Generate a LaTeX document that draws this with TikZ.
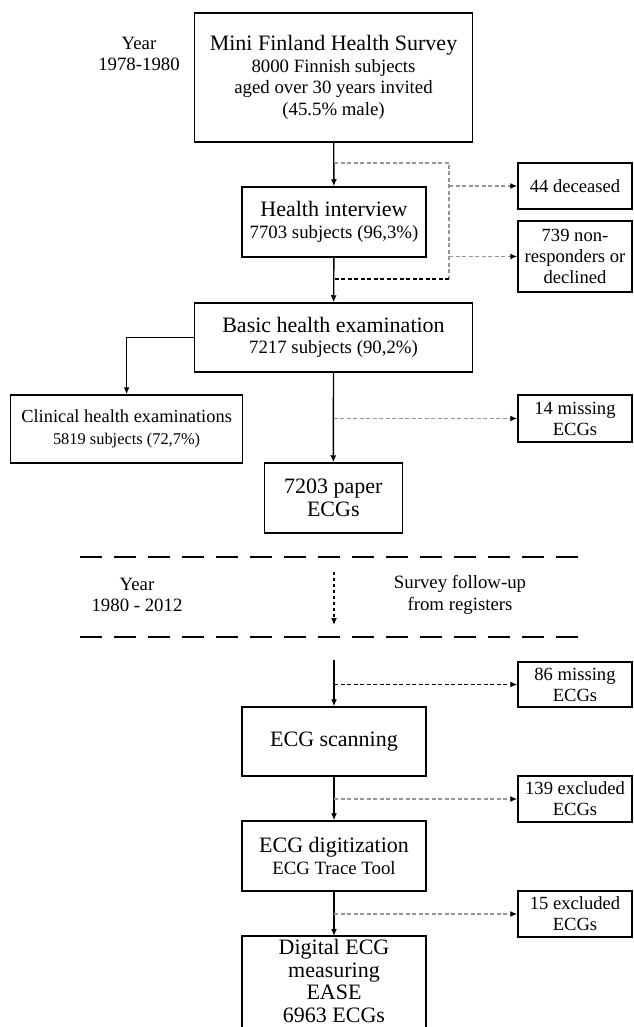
\documentclass[tikz,border=0pt]{standalone}
\usepackage{fontspec}
\setmainfont{Liberation Serif}
\usetikzlibrary{arrows.meta}
\definecolor{dashgray}{RGB}{150,150,150}
\newcommand{\fttitle}{\fontsize{22}{23}\selectfont}
\newcommand{\ftbody}{\fontsize{18.8}{21.5}\selectfont}
\newcommand{\ftside}{\fontsize{18.6}{21}\selectfont}
\newcommand{\ftclin}{\fontsize{18.4}{22}\selectfont}
\newcommand{\ftclinsub}{\fontsize{16.4}{22}\selectfont}

\begin{document}
\begin{tikzpicture}[x=1pt,y=-1pt,
  box/.style={draw, line width=1.5pt, align=center, inner sep=2pt},
  sidebox/.style={box, minimum width=114pt, font=\ftside},
  flow/.style={line width=1.4pt, -{Latex[length=7pt,width=6pt]}},
  exclude/.style={dashgray, line width=1.5pt, dash pattern=on 4pt off 2.5pt, -{Latex[length=7pt,width=6pt,black]}},
  excludeblk/.style={black, line width=1.2pt, dash pattern=on 4pt off 2.5pt},
  divider/.style={line width=2pt, dash pattern=on 22pt off 12pt}]
\useasboundingbox (0,0) rectangle (633,1027);
\clip (0,0) rectangle (633,1027);

% Survey 1978-1980
\node[align=center, font=\ftbody] (year1) at (139,54) {Year\\1978-1980};
\node[box, minimum width=278pt, minimum height=129pt, font=\ftbody] (survey) at (333.5,77.5)
  {{\fttitle Mini Finland Health Survey}\\8000 Finnish subjects\\aged over 30 years invited\\(45.5\% male)};
\node[box, minimum width=184pt, minimum height=70pt, font=\ftbody] (interview) at (334,222)
  {{\fttitle Health interview}\\7703 subjects (96,3\%)};
\node[sidebox, minimum height=46pt] (deceased) at (575,186) {44 deceased};
\node[sidebox, minimum height=71pt] (nonresp) at (575,256.5) {739 non-\\responders or\\declined};
\node[box, minimum width=278pt, minimum height=69pt, font=\ftbody] (basic) at (333.5,337.5)
  {{\fttitle Basic health examination}\\7217 subjects (90,2\%)};
\node[box, minimum width=232pt, minimum height=68pt, font=\ftclin] (clinical) at (126.6,429)
  {Clinical health examinations\\{\ftclinsub 5819 subjects (72,7\%)}};
\node[box, minimum width=138pt, minimum height=70pt, font=\fttitle] (paper) at (333.3,498)
  {7203 paper\\ECGs};
\node[sidebox, minimum height=47pt] (miss14) at (575,418.5) {14 missing\\ECGs};

% main flow
\draw[flow] (survey) -- (interview);
\draw[flow] (interview) -- (basic);
\draw[flow] (basic.west) -| (clinical.north);
\draw[flow] (basic.south) -- (paper.north);

% drop outs
\coordinate (g1) at (334,163);
\coordinate (g2) at (449,163);
\coordinate (g3) at (449,279);
\coordinate (g4) at (334,279);
\draw[dashgray, line width=1.5pt, dash pattern=on 4pt off 2.5pt] (g1) -- (g2) -- (g3);
\draw[excludeblk] (g3) -- (g4);
\draw[exclude] (g2 |- deceased.west) -- (deceased.west);
\draw[exclude] (g2 |- nonresp.west) -- (nonresp.west);
\draw[exclude] (basic.south |- miss14.west) -- (miss14.west);

% Follow-up 1980-2012
\draw[divider] (80,557) -- (585,557);
\draw[divider] (80,637) -- (585,637);
\node[align=center, font=\ftbody] (year2) at (137,595) {Year\\1980 - 2012};
\node[align=center, font=\ftbody] (follow) at (460,595) {Survey follow-up\\from registers};
\coordinate (f1) at (334,572);
\coordinate (f2) at (334,625);
\draw[line width=1.2pt, dash pattern=on 3pt off 3pt, -{Latex[length=7pt,width=6pt]}] (f1) -- (f2);

% Digitization
\coordinate (s0) at (334,660);
\node[box, minimum width=184pt, minimum height=69pt, font=\fttitle] (scan) at (334,741.5) {ECG scanning};
\node[sidebox, minimum height=45pt] (miss86) at (575,684.5) {86 missing\\ECGs};
\node[box, minimum width=184pt, minimum height=70pt, font=\ftbody] (digit) at (334,856)
  {{\fttitle ECG digitization}\\ECG Trace Tool};
\node[sidebox, minimum height=46pt] (excl139) at (575,799) {139 excluded\\ECGs};
\node[sidebox, minimum height=46pt] (excl15) at (575,914) {15 excluded\\ECGs};
% last box runs off the bottom edge
\node[align=center, minimum width=184pt, minimum height=90pt, anchor=north, font=\fontsize{22}{22.5}\selectfont] (measure) at (334,936)
  {Digital ECG\\measuring\\EASE\\6963 ECGs};
\draw[line width=1.5pt] (measure.north west) rectangle ([yshift=-20pt]measure.south east);

\draw[flow] (s0) -- (scan.north);
\draw[flow] (scan) -- (digit);
\draw[flow] (digit) -- (measure);
\draw[excludeblk, -{Latex[length=7pt,width=6pt]}] (s0 |- miss86.west) -- (miss86.west);
\draw[exclude] (scan.south |- excl139.west) -- (excl139.west);
\draw[exclude] (digit.south |- excl15.west) -- (excl15.west);
\end{tikzpicture}
\end{document}
